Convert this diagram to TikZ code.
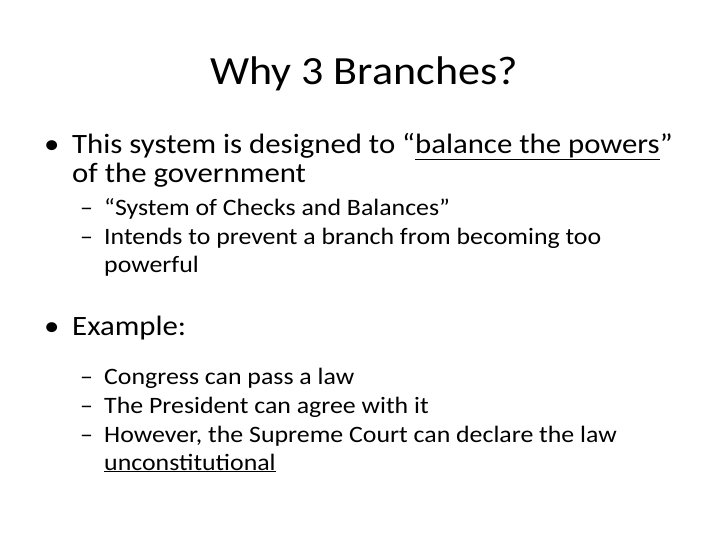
\documentclass[tikz,border=0pt]{standalone}
\usepackage{fontspec}
\setmainfont{Carlito}
\begin{document}
\begin{tikzpicture}[x=1pt,y=-1pt,
  t/.style={anchor=base west,inner sep=0pt,xscale=1.1},
  big/.style={t,font=\fontsize{28}{32}\selectfont},
  small/.style={t,font=\fontsize{23.5}{28}\selectfont}]
\useasboundingbox (0,0) rectangle (728,546);
\node[anchor=base,inner sep=0pt,xscale=1.1,font=\fontsize{40}{48}\selectfont] (title) at (364,84) {Why 3 Branches?};
\node[big] (b1) at (44,153) {•};
\node[big] (l1) at (72,153) {This system is designed to “\underline{balance the powers}”};
\node[big] (l2) at (72,182) {of the government};
\node[small] (d1) at (80,215) {–};
\node[small] (s1) at (104,215) {“System of Checks and Balances”};
\node[small] (d2) at (80,244) {–};
\node[small] (s2) at (104,244) {Intends to prevent a branch from becoming too};
\node[small] (s3) at (104,272) {powerful};
\node[big] (b2) at (44,335) {•};
\node[big] (e) at (72,335) {Example:};
\node[small] (d3) at (80,384) {–};
\node[small] (s4) at (104,384) {Congress can pass a law};
\node[small] (d4) at (80,413) {–};
\node[small] (s5) at (104,413) {The President can agree with it};
\node[small] (d5) at (80,442) {–};
\node[small] (s6) at (104,442) {However, the Supreme Court can declare the law};
\node[small] (s7) at (104,470) {\underline{unconstitutional}};
\end{tikzpicture}
\end{document}
